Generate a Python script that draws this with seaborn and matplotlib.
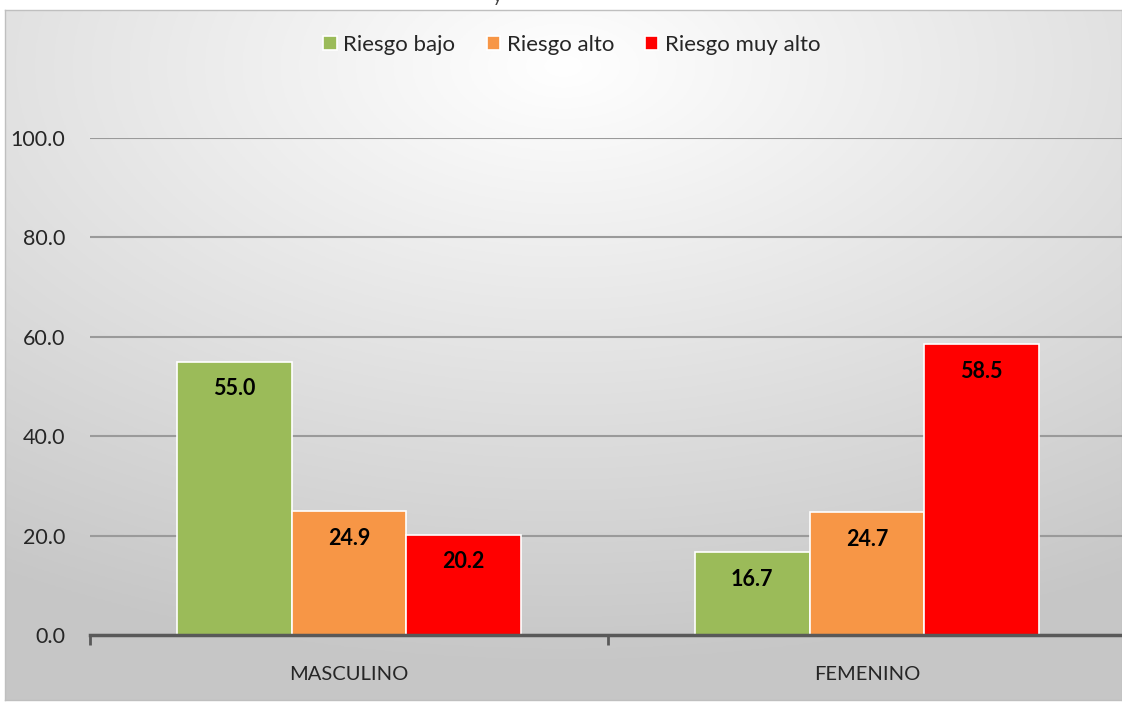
import numpy as np
import pandas as pd
import matplotlib
matplotlib.use("Agg")
import matplotlib.pyplot as plt
import seaborn as sns

# datos
sexo = ["MASCULINO", "FEMENINO"]
riesgos = ["Riesgo bajo", "Riesgo alto", "Riesgo muy alto"]
riesgo_bajo = [55.0, 16.7]
riesgo_alto = [24.9, 24.7]
riesgo_muy_alto = [20.2, 58.5]
colores = ["#9BBB59", "#F79646", "#FF0000"]
yticks = [0, 20, 40, 60, 80, 100]

df = pd.DataFrame({
    "sexo": sexo * 3,
    "riesgo": [r for r in riesgos for _ in sexo],
    "valor": riesgo_bajo + riesgo_alto + riesgo_muy_alto,
})

sns.set_theme(style="white")
plt.rcParams["font.family"] = ["Lato", "DejaVu Sans"]

W, H = 1122, 705
fig = plt.figure(figsize=(W / 100, H / 100), dpi=100)

# fondo con degradado radial (estilo Excel)
bg = fig.add_axes([5 / W, 5 / H, 1117 / W, 690 / H])
gx, gy = np.meshgrid(np.linspace(0, 1, 400), np.linspace(0, 1, 300))
d = np.sqrt(((gx - 0.5) * 1.0) ** 2 + ((gy - 0.08) * 1.1) ** 2)
d = np.clip(d / 0.95, 0, 1)
shade = 1.0 - 0.22 * d
img = np.dstack([shade, shade, shade])
bg.imshow(img, aspect="auto", extent=[0, 1, 1, 0])
bg.set_xlim(0, 1)
bg.set_ylim(1, 0)
bg.set_xticks([])
bg.set_yticks([])
for s in bg.spines.values():
    s.set_color("#bfbfbf")
    s.set_linewidth(1.0)

ax = fig.add_axes([90 / W, 70 / H, 1036 / W, 497 / H])
ax.patch.set_alpha(0)

sns.barplot(data=df, x="sexo", y="valor", hue="riesgo", palette=colores,
            width=0.664, edgecolor="white", linewidth=1.2, saturation=1,
            ax=ax, legend=True)

for c in ax.containers:
    ax.bar_label(c, fmt="%.1f", padding=-27, fontsize=15.5, fontweight="bold",
                 color="black")

ax.set_ylim(0, 100)
ax.set_xlim(-0.5, 1.5)
ax.set_yticks(yticks)
ax.set_yticklabels([f"{v:.1f}" for v in yticks], fontsize=15.5, color="#262626")
ax.yaxis.grid(True, color="#9a9a9a", linewidth=1.5)
ax.set_axisbelow(True)
ax.tick_params(axis="y", length=0, pad=18)
ax.tick_params(axis="x", which="major", length=0, pad=22, labelsize=14.5,
               labelcolor="#262626")
ax.set_xticks([-0.5, 0.5, 1.5], minor=True)
ax.tick_params(axis="x", which="minor", bottom=True, length=7, width=2,
               color="#595959", direction="out")
ax.set_xlabel("")
ax.set_ylabel("")
for s in ["top", "right", "left"]:
    ax.spines[s].set_visible(False)
ax.spines["bottom"].set_color("#595959")
ax.spines["bottom"].set_linewidth(2.5)

handles, labels = ax.get_legend_handles_labels()
ax.get_legend().remove()
fig.legend(handles, labels, loc="center", bbox_to_anchor=(572 / W, 1 - 45 / H),
           ncol=3, frameon=False, fontsize=16, handlelength=0.6,
           handleheight=0.6, handletextpad=0.3, columnspacing=1.4)

# resto del titulo cortado arriba
fig.text(497 / W, 1 - 2 / H, "y", fontsize=13, ha="center", va="baseline",
         color="#404040")

fig.savefig("out.png", dpi=100)
